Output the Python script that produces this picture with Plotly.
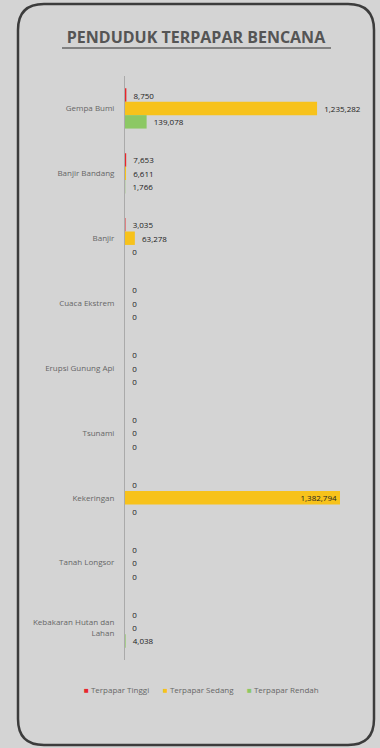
import plotly.graph_objects as go

categories = ["Gempa Bumi", "Banjir Bandang", "Banjir", "Cuaca Ekstrem", "Erupsi Gunung Api",
              "Tsunami", "Kekeringan", "Tanah Longsor", "Kebakaran Hutan dan<br>Lahan"]
tinggi = [8750, 7653, 3035, 0, 0, 0, 0, 0, 0]
sedang = [1235282, 6611, 63278, 0, 0, 0, 1382794, 0, 0]
rendah = [139078, 1766, 0, 0, 0, 0, 0, 0, 4038]

series = [("Terpapar Tinggi", tinggi, "#e8262b"),
          ("Terpapar Sedang", sedang, "#f7c21b"),
          ("Terpapar Rendah", rendah, "#8cc864")]

W, H = 380, 748
ML, MR, MT, MB = 125, 18, 76, 88
PW, PH = W - ML - MR, H - MT - MB


def px(x, y):
    return (x - ML) / PW, (H - MB - y) / PH


fig = go.Figure()
xmax = max(sedang)
for name, vals, col in series:
    pos = ["inside" if v > 0.9 * xmax else "outside" for v in vals]
    txt = [("{:,}".format(v) if p == "inside" else "\u00a0\u00a0" + "{:,}".format(v)) for v, p in zip(vals, pos)]
    fig.add_trace(go.Bar(
        y=categories, x=vals, name=name, orientation="h",
        marker=dict(color=col, line=dict(width=0)),
        text=txt, textposition=pos, insidetextanchor="end",
        textfont=dict(size=8, color="#222", family="Open Sans"),
        constraintext="none", cliponaxis=False,
    ))

# legend drawn as text items (compact swatches like the original)
legend_x = [82, 161, 245]
for (name, vals, col), lx in zip(series, legend_x):
    x, y = px(lx, 689)
    fig.add_annotation(x=x, y=y, xref="paper", yref="paper", xanchor="left", yanchor="middle",
                       showarrow=False, text='<span style="color:%s">■</span> %s' % (col, name),
                       font=dict(family="Open Sans", size=8, color="#666"))

# rounded frame
x0, y0, x1, y1, r = 18, 4, 374, 745, 26
pts = [px(x0 + r, y0), px(x1 - r, y0), px(x1, y0), px(x1, y0 + r), px(x1, y1 - r), px(x1, y1),
       px(x1 - r, y1), px(x0 + r, y1), px(x0, y1), px(x0, y1 - r), px(x0, y0 + r), px(x0, y0)]
p = "M{0[0]},{0[1]} L{1[0]},{1[1]} Q{2[0]},{2[1]} {3[0]},{3[1]} L{4[0]},{4[1]} Q{5[0]},{5[1]} {6[0]},{6[1]} " \
    "L{7[0]},{7[1]} Q{8[0]},{8[1]} {9[0]},{9[1]} L{10[0]},{10[1]} Q{11[0]},{11[1]} {0[0]},{0[1]} Z".format(*pts)
ux0, uy = px(62, 48)
ux1, _ = px(331, 48)

fig.update_layout(
    width=W, height=H,
    margin=dict(l=ML, r=MR, t=MT, b=MB),
    paper_bgcolor="#d4d4d4", plot_bgcolor="#d4d4d4",
    barmode="group", bargap=0.38, bargroupgap=0,
    title=dict(text="<b>PENDUDUK TERPAPAR BENCANA</b>", x=196 / W, xanchor="center",
               y=1 - 37 / H, yanchor="middle",
               font=dict(family="Open Sans", size=16, color="#555")),
    shapes=[dict(type="path", path=p, xref="paper", yref="paper", line=dict(color="#3c3c3c", width=2.5)),
            dict(type="line", x0=ux0, x1=ux1, y0=uy, y1=uy, xref="paper", yref="paper",
                 line=dict(color="#666", width=1.5))],
    showlegend=False,
)
fig.update_xaxes(range=[0, xmax * PW / 215], showticklabels=False, showgrid=False, zeroline=False)
fig.update_yaxes(autorange="reversed", showline=True, linecolor="#aaa", linewidth=1, showgrid=False,
                 ticks="", ticklabelstandoff=8, tickfont=dict(family="Open Sans", size=8, color="#666"))

fig.write_html("out.html", config={"staticPlot": True},
               post_script="document.body.style.margin='0';document.body.style.overflow='hidden';")
